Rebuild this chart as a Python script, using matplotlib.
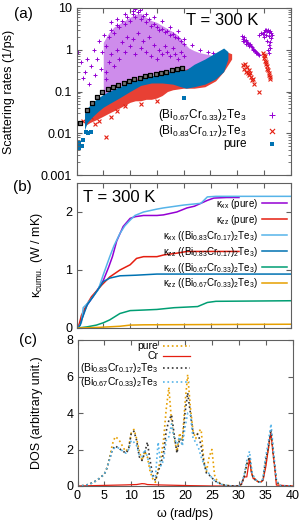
import numpy as np
import matplotlib
matplotlib.use('Agg')
import matplotlib.pyplot as plt

plt.rcParams['font.family'] = ['Liberation Sans', 'DejaVu Sans']
plt.rcParams['mathtext.fontset'] = 'custom'
plt.rcParams['mathtext.rm'] = 'Liberation Sans'
plt.rcParams['mathtext.it'] = 'Liberation Sans'

# ---- (a) scattering rates ----
lab067 = r'(Bi$_{0.67}$Cr$_{0.33}$)$_2$Te$_3$'
lab083 = r'(Bi$_{0.83}$Cr$_{0.17}$)$_2$Te$_3$'

# dense cores of the clouds (envelopes)
pu_x = [5, 6, 7, 8, 9, 10, 11, 12, 13, 14, 15, 16, 17, 18, 19, 20, 21, 22, 23, 24, 25, 26, 27]
pu_hi = [1.5, 2.5, 3.5, 4.2, 5.0, 6.0, 7.0, 7.5, 6.0, 5.0, 4.5, 3.8, 3.2, 2.7, 2.2, 1.5, 1.1, 0.95, 0.85, 0.8, 0.75, 0.7, 0.6]
pu_lo = [0.07, 0.09, 0.11, 0.13, 0.15, 0.17, 0.19, 0.21, 0.23, 0.25, 0.27, 0.28, 0.3, 0.31, 0.32, 0.3, 0.3, 0.4, 0.5, 0.55, 0.6, 0.55, 0.5]

rd_x = [1.5, 2.5, 4, 6, 8, 10, 11, 12, 13, 14, 15, 16, 17, 18, 20, 22, 24, 26, 27.5, 29]
rd_lo = [0.015, 0.018, 0.022, 0.03, 0.04, 0.055, 0.06, 0.06, 0.065, 0.065, 0.07, 0.08, 0.1, 0.11, 0.12, 0.12, 0.13, 0.18, 0.3, 0.6]
rd_hi = [0.03, 0.04, 0.06, 0.08, 0.11, 0.15, 0.2, 0.2, 0.2, 0.22, 0.25, 0.28, 0.3, 0.32, 0.33, 0.4, 0.5, 0.7, 0.95, 0.8]

bl_x = [1.5, 2, 3, 4, 5, 6, 8, 10, 12, 14, 16, 18, 19.5, 20.5, 22, 24, 26, 27.5, 28.3]
bl_lo = [0.012, 0.018, 0.025, 0.033, 0.042, 0.05, 0.07, 0.1, 0.14, 0.16, 0.16, 0.15, 0.13, 0.12, 0.13, 0.15, 0.2, 0.3, 0.6]
bl_hi = [0.03, 0.04, 0.055, 0.07, 0.085, 0.1, 0.13, 0.17, 0.2, 0.24, 0.28, 0.32, 0.34, 0.33, 0.45, 0.6, 0.85, 1.1, 0.9]

# individual points outside / on top of the cores
pu_px = [0.3, 0.8, 1.2, 1.6, 2.0, 2.4, 2.8, 3.2, 3.5, 3.8, 4.2, 4.5, 4.8, 5.2, 5.5, 6.5, 7.5, 9, 11, 12.3,
         11.8, 13, 10.5, 14.5, 16, 17.5, 19, 20, 21.5, 23, 24.5, 25.5, 26.5, 27.2,
         5.5, 6, 6.5, 7, 7.5, 8, 8.5, 9, 9.5, 10, 10.5, 11, 11.5, 12, 12.5, 13, 13.5, 14, 14.5, 15,
         15.5, 16, 16.5, 17, 17.5, 18, 18.5, 19, 19.5, 20,
         5.5, 6, 6.5, 7, 7.5, 8, 8.5, 9, 9.5, 10, 10.5, 11, 11.5, 12, 12.5, 13, 13.5, 14, 14.5, 15,
         15.5, 16, 16.5, 17, 17.5, 18, 18.5, 19, 19.5, 20,
         30.9, 31.1, 31.3, 31.4, 31.6, 31.8, 32.0, 32.2, 32.4, 32.6, 32.8, 33.0, 33.2, 33.4, 33.6, 33.8,
         34.0, 34.2, 31.2, 31.7, 32.3, 32.9, 33.5,
         34.2, 34.5, 34.8, 35.0, 35.2, 35.4, 35.6, 35.8, 36.0, 36.2, 36.4, 36.6, 35.1, 35.5, 35.9, 36.3,
         35.7, 35.9, 36.1, 35.8, 36.0, 36.2]
pu_py = [0.9, 0.5, 0.21, 0.3, 0.6, 0.15, 0.4, 1.0, 0.25, 0.6, 1.6, 0.35, 0.9, 2.2, 0.2, 4.5, 5.5, 7, 9.5, 10,
         9, 7, 8.5, 6, 5, 3.5, 2.8, 1.8, 1.3, 1.0, 0.9, 0.85, 0.7, 0.6,
         1.2, 2.0, 3.0, 2.5, 4.0, 3.5, 5.0, 4.2, 6.0, 5.0, 7.0, 6.0, 8.0, 5.5, 6.5, 4.5, 5.5, 3.8, 4.2, 3.5,
         3.0, 3.2, 2.6, 2.8, 2.2, 2.4, 2.0, 1.9, 1.6, 1.4,
         0.3, 0.5, 0.8, 0.4, 1.0, 0.6, 1.5, 0.9, 2.0, 1.2, 1.8, 0.8, 2.5, 1.1, 1.6, 0.9, 2.0, 0.7, 1.3, 0.6,
         1.0, 0.8, 1.2, 0.9, 0.7, 1.1, 0.8, 0.6, 0.9, 0.7,
         2.1, 1.8, 2.0, 1.6, 1.7, 1.5, 1.45, 1.3, 1.35, 1.2, 1.15, 1.05, 1.0, 0.95, 0.9, 0.85,
         0.8, 0.75, 1.6, 1.35, 1.2, 1.0, 0.85,
         2.3, 2.5, 2.4, 2.7, 2.9, 3.0, 2.8, 3.0, 2.6, 2.8, 2.5, 2.2, 2.0, 2.2, 2.1, 1.9,
         1.6, 1.3, 1.5, 1.0, 0.85, 1.1]

rd_px = [1.2, 2.8, 3.5, 4.2, 5.5, 6.5, 7.5, 9, 12, 15,
         31.2, 31.4, 31.5, 31.7, 31.9, 32.0, 32.2, 32.3, 32.5, 32.7, 32.8, 33.0, 33.1, 34.2,
         34.9, 35.0, 35.1, 35.2, 35.3, 35.4, 35.5, 35.6, 35.7, 35.8, 35.9, 36.0, 36.1, 36.2]
rd_py = [0.02, 0.025, 0.017, 0.02, 0.0083, 0.025, 0.035, 0.045, 0.05, 0.06,
         0.42, 0.35, 0.45, 0.3, 0.38, 0.28, 0.32, 0.25, 0.27, 0.22, 0.19, 0.2, 0.15, 0.1,
         0.85, 0.75, 0.65, 0.7, 0.55, 0.5, 0.45, 0.4, 0.35, 0.32, 0.28, 0.25, 0.22, 0.2]

bl_px = [0.4, 0.55, 0.7, 1.1, 1.3, 1.7, 2.2, 2.8, 20]
bl_py = [0.0045, 0.006, 0.005, 0.005, 0.007, 0.011, 0.01, 0.011, 0.07]

sq_x = [0.7, 2.0, 2.9, 3.9, 4.8, 5.8, 6.8, 7.8, 8.8, 9.8, 10.8, 11.8, 12.8, 13.8, 14.8, 15.8, 16.8, 17.8, 18.8, 19.8]
sq_y = [0.018, 0.036, 0.054, 0.075, 0.1, 0.115, 0.13, 0.145, 0.16, 0.18, 0.195, 0.21, 0.23, 0.25, 0.265, 0.28, 0.3, 0.32, 0.34, 0.36]

# ---- (b) cumulative thermal conductivity ----
kxx_pure_x = [0.3, 1, 1.5, 2, 3, 4, 5, 6, 6.7, 7.5, 8.7, 10, 11, 12.5, 15, 16.2, 18.7, 20.6, 22, 23.2, 24.4, 25.6, 28, 30.3]
kxx_pure_y = [0, 0.15, 0.3, 0.4, 0.53, 0.67, 0.82, 1.05, 1.23, 1.5, 1.75, 1.89, 1.92, 1.94, 1.94, 1.95, 2.0, 2.07, 2.1, 2.15, 2.2, 2.24, 2.25, 2.25]
kzz_pure_x = [0.3, 0.6, 0.93, 1.9, 2.8, 4.05, 4.7, 6.2, 8.1, 10, 11.2, 12.5, 15, 16.3, 18.7, 20.6, 25, 30.3]
kzz_pure_y = [0, 0.1, 0.22, 0.4, 0.54, 0.67, 0.74, 0.88, 1.0, 1.09, 1.2, 1.23, 1.23, 1.26, 1.29, 1.32, 1.32, 1.32]
kxx_083_x = [0.3, 0.93, 1.25, 2, 3, 4.05, 5, 6.2, 7, 8.1, 9, 10, 10.9, 12.5, 15, 16.2, 20, 23.2, 24.4, 26, 40]
kxx_083_y = [0, 0.1, 0.35, 0.42, 0.53, 0.66, 0.92, 1.23, 1.42, 1.63, 1.76, 1.86, 1.94, 2.0, 2.05, 2.07, 2.12, 2.15, 2.26, 2.27, 2.27]
kzz_083_x = [0.3, 0.7, 1.0, 2, 3, 4.05, 5, 6.2, 8.1, 11, 15, 40]
kzz_083_y = [0, 0.05, 0.15, 0.4, 0.53, 0.67, 0.8, 0.86, 0.9, 0.91, 0.93, 0.93]
kxx_067_x = [0.3, 2, 3.7, 5, 6.2, 8.1, 10, 12.6, 15, 18.2, 22.6, 24.4, 26, 40]
kxx_067_y = [0, 0.02, 0.05, 0.09, 0.14, 0.25, 0.3, 0.31, 0.32, 0.35, 0.37, 0.44, 0.46, 0.47]
kzz_067_x = [0.3, 4, 8.1, 10, 12.6, 40]
kzz_067_y = [0, 0.01, 0.03, 0.05, 0.055, 0.065]

# ---- (c) density of states ----
w_dos = [0, 1, 2, 3, 4, 5, 5.5, 6, 6.5, 7, 7.5, 8, 8.5, 9, 9.5, 10, 10.5, 11, 11.5, 12, 12.5, 13, 13.5, 14,
         14.5, 15, 15.5, 16, 16.5, 17, 17.5, 18, 18.5, 19, 19.5, 20, 20.5, 21, 21.5, 22, 22.5, 23, 23.5, 24,
         24.5, 25, 25.5, 26, 27, 28, 29, 30, 30.5, 31, 31.5, 32, 32.5, 33, 33.5, 34, 34.5, 35, 35.5, 36,
         36.5, 37, 37.5, 38, 40]
dos_pure = [0, 0.02, 0.08, 0.2, 0.4, 0.65, 1.0, 1.6, 2.3, 2.7, 2.6, 2.4, 2.1, 1.9, 2.1, 2.9, 3.1, 2.6, 1.9, 1.4,
            1.9, 1.6, 0.8, 0.4, 0.2, 0.9, 1.5, 2.5, 4.2, 5.4, 3.5, 2.6, 1.9, 2.9, 2.5, 4.5, 6.1, 4.3, 3.0, 2.6,
            3.0, 3.1, 1.4, 0.8, 1.6, 2.0, 0.6, 0.25, 0.08, 0.02, 0, 0, 0.1, 0.5, 1.2, 1.5, 0.6, 0.35, 0.25, 0.2,
            0.3, 1.2, 2.0, 2.9, 1.5, 0.3, 0.05, 0, 0]
dos_083 = [0, 0.02, 0.08, 0.2, 0.4, 0.65, 1.0, 1.5, 2.0, 2.2, 2.1, 2.0, 1.9, 1.8, 2.0, 2.9, 3.0, 2.5, 1.6, 1.4,
           1.8, 2.4, 1.4, 0.6, 0.3, 0.8, 1.2, 1.8, 3.0, 3.6, 3.9, 2.8, 1.8, 2.6, 2.3, 4.0, 5.1, 4.0, 2.9, 2.9,
           2.8, 2.2, 1.3, 0.7, 0.6, 0.45, 0.3, 0.2, 0.07, 0.02, 0, 0, 0.1, 0.5, 1.2, 1.6, 0.6, 0.35, 0.25, 0.2,
           0.35, 1.4, 2.1, 3.1, 1.6, 0.3, 0.05, 0, 0]
dos_067 = [0, 0.02, 0.08, 0.2, 0.4, 0.65, 1.0, 1.5, 2.0, 2.1, 2.1, 2.0, 1.9, 1.8, 2.0, 2.5, 2.4, 2.2, 1.7, 1.6,
           2.0, 1.6, 1.0, 0.5, 0.5, 2.4, 1.1, 1.4, 2.5, 2.7, 3.4, 2.6, 2.3, 2.7, 2.2, 3.2, 4.0, 3.9, 2.6, 2.4,
           2.1, 1.6, 1.2, 0.9, 0.65, 0.45, 0.3, 0.2, 0.07, 0.02, 0, 0, 0.15, 0.6, 1.4, 1.9, 0.7, 0.4, 0.25, 0.2,
           0.4, 1.6, 2.4, 3.4, 1.8, 0.35, 0.05, 0, 0]
w_cr = [0, 3, 6, 9, 11, 12, 12.5, 13, 15, 18, 21, 25, 27, 30, 30.5, 31, 31.5, 32, 32.3, 32.7, 33, 33.5, 34,
        34.5, 35, 35.3, 35.7, 36, 36.3, 36.7, 37, 40]
dos_cr = [0, 0.02, 0.04, 0.06, 0.08, 0.13, 0.12, 0.08, 0.06, 0.04, 0.02, 0.0, 0, 0, 0.1, 0.5, 0.5, 1.5, 0.8,
          0.4, 0.4, 0.25, 0.2, 0.3, 1.0, 1.6, 2.5, 2.9, 2.0, 1.0, 0.05, 0]

PURPLE = '#9400d3'
RED = '#e51e10'
BLUE = '#0072b2'
LBLUE = '#56b4e9'
GREEN = '#009e73'
ORANGE = '#e69f00'
FRAME = '#606060'

W, H = 302, 524
fig = plt.figure(figsize=(W / 100, H / 100), dpi=100)


def ax_at(l, r, t, b):
    return fig.add_axes([l / W, 1 - b / H, (r - l) / W, (b - t) / H])


def style(ax):
    for s in ax.spines.values():
        s.set_color(FRAME)
        s.set_linewidth(0.8)
    ax.tick_params(which='both', direction='in', top=True, right=True, color=FRAME,
                   labelsize=9, pad=3)
    ax.tick_params(which='major', length=3.5)
    ax.tick_params(which='minor', length=2)
    ax.set_xlim(0, 40)
    ax.set_xticks(np.arange(0, 41, 5))


# (a)
ax1 = ax_at(76.5, 290.5, 8, 175)
style(ax1)
ax1.set_yscale('log')
ax1.set_ylim(0.001, 10)
ax1.set_yticks([0.001, 0.01, 0.1, 1, 10])
ax1.set_yticklabels(['0.001', '0.01', '0.1', '1', '10'])
ax1.tick_params(labelbottom=False)
ax1.fill_between(pu_x, pu_lo, pu_hi, color=PURPLE, alpha=0.45, lw=0)
ax1.scatter(pu_px, pu_py, marker='+', s=10, color=PURPLE, lw=0.7, label=lab067)
ax1.fill_between(rd_x, rd_lo, rd_hi, color=RED, alpha=0.85, lw=0)
ax1.scatter(rd_px, rd_py, marker='x', s=8, color=RED, lw=0.8, label=lab083)
ax1.fill_between(bl_x, bl_lo, bl_hi, color=BLUE, lw=0)
ax1.scatter(bl_px, bl_py, marker='s', s=6, color=BLUE, lw=0, label='pure')
ax1.scatter(sq_x, sq_y, marker='s', s=8, facecolor='#777777', edgecolor='black', lw=0.9, zorder=5)
ax1.set_ylabel('Scattering rates (1/ps)', fontsize=9)
ax1.yaxis.set_label_coords(-0.287, 0.5)
ax1.text(0.848, 0.97, 'T = 300 K', transform=ax1.transAxes, ha='right', va='top', fontsize=12)
ax1.legend(loc='upper right', bbox_to_anchor=(0.995, 0.405), frameon=False, fontsize=8.5,
           markerfirst=False, handlelength=3, handletextpad=0.6, labelspacing=-0.05,
           borderpad=0, borderaxespad=0, scatterpoints=1, markerscale=1.3)
fig.text(23 / W, 1 - 14 / H, '(a)', fontsize=11, ha='center', va='center')

# (b)
ax2 = ax_at(76.5, 291, 183, 328)
style(ax2)
ax2.set_ylim(0, 2.5)
ax2.set_yticks([0, 1, 2])
ax2.tick_params(labelbottom=False)
lw = 1.1
ax2.plot(kxx_pure_x, kxx_pure_y, color=PURPLE, lw=lw, label=r'$\kappa_{xx}$ (pure)')
ax2.plot(kzz_pure_x, kzz_pure_y, color=RED, lw=lw, label=r'$\kappa_{zz}$ (pure)')
ax2.plot(kxx_083_x, kxx_083_y, color=LBLUE, lw=lw,
         label=r'$\kappa_{xx}$ ((Bi$_{0.83}$Cr$_{0.17}$)$_2$Te$_3$)')
ax2.plot(kzz_083_x, kzz_083_y, color=BLUE, lw=lw,
         label=r'$\kappa_{zz}$ ((Bi$_{0.83}$Cr$_{0.17}$)$_2$Te$_3$)')
ax2.plot(kxx_067_x, kxx_067_y, color=GREEN, lw=lw,
         label=r'$\kappa_{xx}$ ((Bi$_{0.67}$Cr$_{0.33}$)$_2$Te$_3$)')
ax2.plot(kzz_067_x, kzz_067_y, color=ORANGE, lw=lw,
         label=r'$\kappa_{zz}$ ((Bi$_{0.67}$Cr$_{0.33}$)$_2$Te$_3$)')
ax2.set_ylabel(r'$\kappa_{cumu.}$ (W / mK)', fontsize=9)
ax2.yaxis.set_label_coords(-0.147, 0.5)
ax2.text(0.03, 0.955, 'T = 300 K', transform=ax2.transAxes, ha='left', va='top', fontsize=12)
ax2.legend(loc='upper right', bbox_to_anchor=(0.98, 0.905), frameon=False, fontsize=7,
           handlelength=2.5, handletextpad=0.4, labelspacing=0.2, markerfirst=False,
           borderpad=0, borderaxespad=0)
fig.text(22 / W, 1 - 187 / H, '(b)', fontsize=11, ha='center', va='center')

# (c)
ax3 = ax_at(77.5, 292.5, 340, 486)
style(ax3)
ax3.set_ylim(0, 8)
ax3.set_yticks([0, 2, 4, 6, 8])
ax3.plot(w_dos, dos_pure, color=ORANGE, lw=1.2, ls=':', label='pure')
ax3.plot(w_cr, dos_cr, color=RED, lw=0.9, label='Cr')
ax3.plot(w_dos, dos_083, color='#333333', lw=1.2, ls=':', label=lab083)
ax3.plot(w_dos, dos_067, color=LBLUE, lw=1.2, ls=':', label=lab067)
ax3.set_xlabel(r'$\omega$ (rad/ps)', fontsize=9, labelpad=3)
ax3.set_ylabel('DOS (arbitrary unit.)', fontsize=9)
ax3.yaxis.set_label_coords(-0.16, 0.5)
ax3.legend(loc='upper right', bbox_to_anchor=(0.525, 0.99), frameon=False, fontsize=7.5,
           handlelength=2.6, handletextpad=0.5, labelspacing=0.0, markerfirst=False,
           borderpad=0, borderaxespad=0)
fig.text(28 / W, 1 - 340 / H, '(c)', fontsize=11, ha='center', va='center')

fig.savefig('out.png', dpi=100)
